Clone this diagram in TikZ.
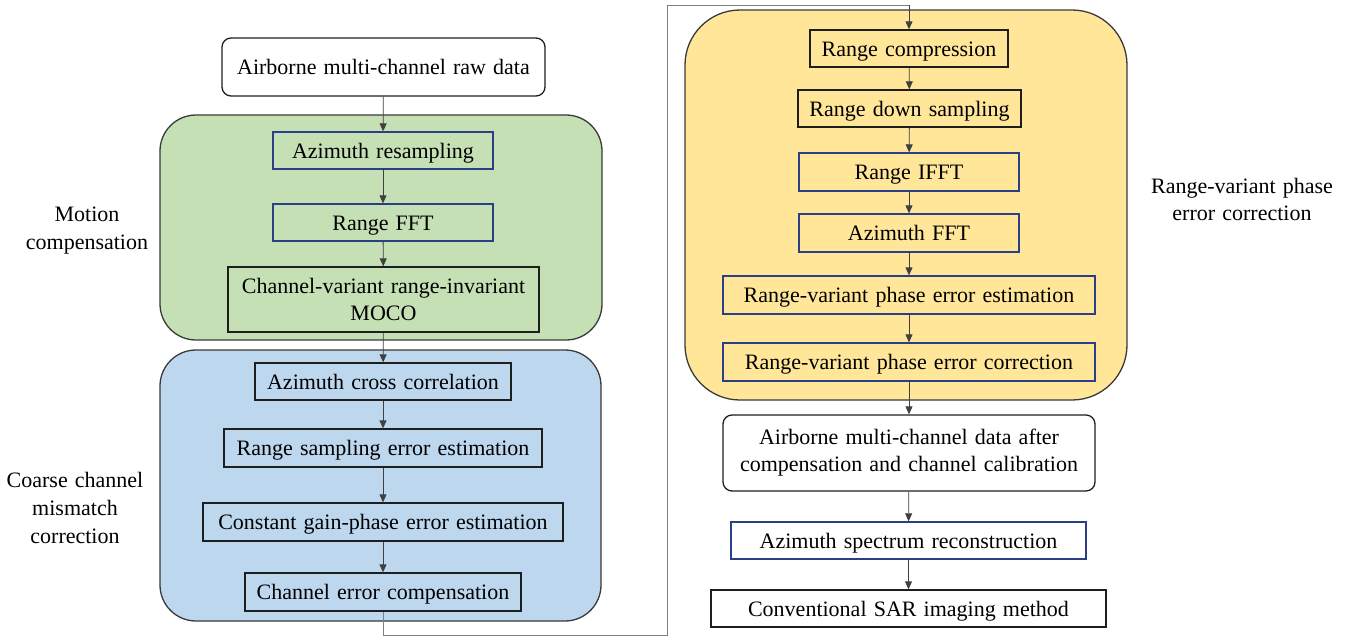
\documentclass[tikz,border=0pt]{standalone}
\usepackage{fontspec}
\setmainfont{Liberation Serif}[WordSpace=1.3]
\usetikzlibrary{arrows.meta}
\definecolor{gfill}{HTML}{C5E0B4}
\definecolor{bfill}{HTML}{BDD7EE}
\definecolor{yfill}{HTML}{FFE699}
\definecolor{bbord}{HTML}{2B3F86}
\definecolor{kbord}{HTML}{1E1E1E}
\definecolor{cbord}{HTML}{3A3A3A}
\tikzset{
  box/.style={draw=kbord, line width=1.3pt, inner sep=0pt, align=center, font=\fontsize{22}{27}\selectfont},
  one/.style={text height=20pt, text depth=5pt},
  bbox/.style={box, draw=bbord},
  rbox/.style={box, fill=white, rounded corners=9pt},
  container/.style={draw=cbord, line width=1.3pt},
  flow/.style={draw=black!75, line width=0.8pt, -{Triangle[length=8pt,width=7pt]}},
  loopline/.style={draw=black!50, line width=0.9pt},
  side/.style={align=center, inner sep=0pt}
}
\begin{document}
\begin{tikzpicture}[x=1pt,y=-1pt]
\useasboundingbox (0,0) rectangle (1350,637);
% containers
\draw[container, fill=gfill, rounded corners=36pt] (160,115) rectangle (602,340);
\draw[container, fill=bfill, rounded corners=36pt] (160,350) rectangle (601,621);
\draw[container, fill=yfill, rounded corners=55pt] (685,10) rectangle (1127,400);
% left column
\node[rbox, one, minimum width=323pt, minimum height=58pt] (raw) at (383.5,67) {Airborne multi-channel raw data};
\node[bbox, one, minimum width=220pt, minimum height=37pt] (az) at (383,150.5) {Azimuth resampling};
\node[bbox, one, minimum width=220pt, minimum height=37pt] (rfft) at (383,222.5) {Range FFT};
\node[box, minimum width=311pt, minimum height=65pt] (moco) at (383.5,299.5) {Channel-variant range-invariant\\MOCO};
\node[box, one, minimum width=256pt, minimum height=37pt] (acc) at (383,381.5) {Azimuth cross correlation};
\node[box, one, minimum width=318pt, minimum height=38pt] (rse) at (383,448) {Range sampling error estimation};
\node[box, one, minimum width=360pt, minimum height=38pt] (cgp) at (383,522) {Constant gain-phase error estimation};
\node[box, one, minimum width=276pt, minimum height=38pt] (cec) at (383,592) {Channel error compensation};
% right column
\node[box, one, minimum width=198pt, minimum height=37pt] (rc) at (909,48.5) {Range compression};
\node[box, one, minimum width=223pt, minimum height=37pt] (rds) at (909.5,108.5) {Range down sampling};
\node[bbox, one, minimum width=220pt, minimum height=38pt] (rifft) at (909,172) {Range IFFT};
\node[bbox, one, minimum width=220pt, minimum height=38pt] (afft) at (909,233) {Azimuth FFT};
\node[bbox, one, minimum width=372pt, minimum height=38pt] (rvpe) at (909,295) {Range-variant phase error estimation};
\node[bbox, one, minimum width=372pt, minimum height=38pt] (rvpc) at (909,362) {Range-variant phase error correction};
\node[rbox, minimum width=372pt, minimum height=76pt] (after) at (909,453) {Airborne multi-channel data after\\compensation and channel calibration};
\node[bbox, one, minimum width=355pt, minimum height=37pt] (asr) at (908.5,540.5) {Azimuth spectrum reconstruction};
\node[box, one, minimum width=395pt, minimum height=37pt] (sar) at (908.5,608.5) {Conventional SAR imaging method};
% side labels
\node[side, font=\fontsize{22}{28}\selectfont] (lmoco) at (87,231) {Motion\\compensation};
\node[side, font=\fontsize{22}{28}\selectfont] (lcoarse) at (75,508) {Coarse channel\\mismatch\\correction};
\node[side, font=\fontsize{22}{27}\selectfont] (lrv) at (1242,199) {Range-variant phase\\error correction};
% connectors
\draw[flow] (raw) -- (az);
\draw[flow] (az) -- (rfft);
\draw[flow] (rfft) -- (moco);
\draw[flow] (moco) -- (acc);
\draw[flow] (acc) -- (rse);
\draw[flow] (rse) -- (cgp);
\draw[flow] (cgp) -- (cec);
\coordinate (l1) at (383,635);
\coordinate (l2) at (667,635);
\coordinate (l3) at (667,5);
\coordinate (l4) at (909,5);
\draw[loopline] (cec.south) -- (l1) -- (l2) -- (l3) -- (l4);
\draw[flow] (l4) -- (rc.north);
\draw[flow] (rc) -- (rds);
\draw[flow] (rds) -- (rifft);
\draw[flow] (rifft) -- (afft);
\draw[flow] (afft) -- (rvpe);
\draw[flow] (rvpe) -- (rvpc);
\draw[flow] (rvpc) -- (after);
\draw[flow] (after) -- (asr);
\draw[flow] (asr) -- (sar);
\end{tikzpicture}
\end{document}
